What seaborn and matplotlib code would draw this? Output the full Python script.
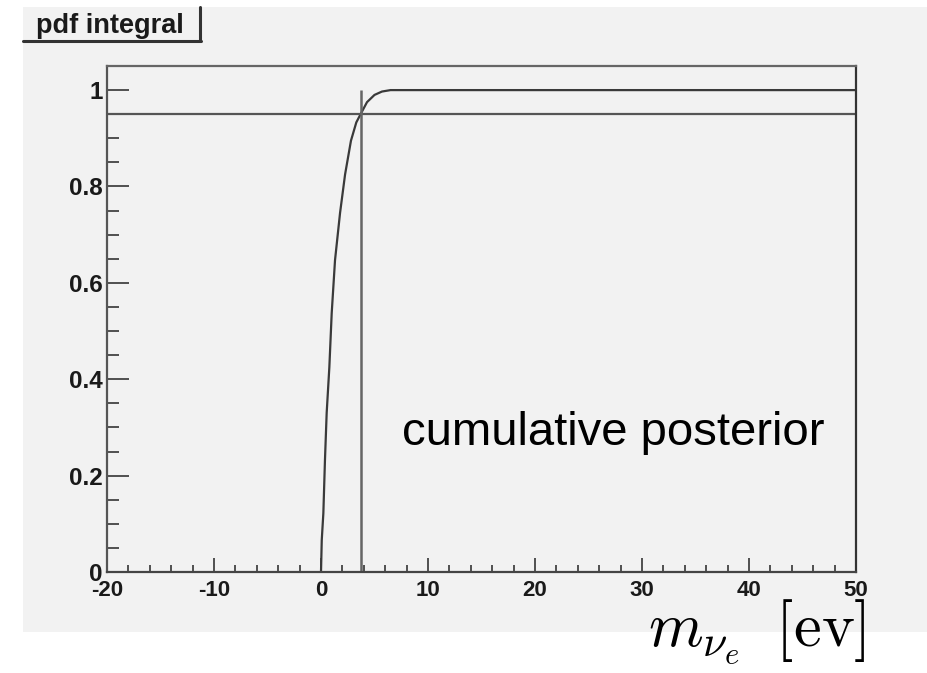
import numpy as np
import pandas as pd
import matplotlib
matplotlib.use('Agg')
import matplotlib.pyplot as plt
import seaborn as sns
from matplotlib.patches import Rectangle
from matplotlib.lines import Line2D
from matplotlib.ticker import FixedLocator, MultipleLocator

# ---- data ----
mass = [0.0, 0.07, 0.22, 0.37, 0.53, 0.78, 1.0, 1.31, 1.78, 2.25, 2.8, 3.3, 3.7,
        4.3, 5.0, 5.7, 6.5, 50.0]
cdf = [0.0, 0.066, 0.122, 0.232, 0.33, 0.425, 0.537, 0.647, 0.745, 0.825, 0.895,
       0.933, 0.95, 0.975, 0.99, 0.997, 1.0, 1.0]
limit_mass = 3.7
limit_level = 0.95
x_ticks = [-20, -10, 0, 10, 20, 30, 40, 50]
x_tick_labels = ['-20', '-10', '0', '10', '20', '30', '40', '50']
y_ticks = [0, 0.2, 0.4, 0.6, 0.8, 1.0]
y_tick_labels = ['0', '0.2', '0.4', '0.6', '0.8', '1']

df = pd.DataFrame({'mass': mass, 'cdf': cdf})

sns.set_theme(style='white')
plt.rcParams['font.family'] = ['Liberation Sans', 'DejaVu Sans']
plt.rcParams['mathtext.fontset'] = 'cm'

W, H = 928, 673
fig = plt.figure(figsize=(W / 100, H / 100), dpi=100)
fig.patch.set_facecolor('white')

# grey canvas
fig.add_artist(Rectangle((23 / W, 1 - 632 / H), 1 - 23 / W, (632 - 7) / H,
                         transform=fig.transFigure, facecolor='#f2f2f2',
                         edgecolor='none', zorder=-5))

ax = fig.add_axes([107 / W, 1 - 572 / H, (856 - 107) / W, (572 - 66) / H])
ax.set_facecolor('#f2f2f2')

sns.lineplot(data=df, x='mass', y='cdf', ax=ax, color='#3a3a3a', lw=1.6,
             estimator=None, sort=True, legend=False)
ax.axhline(limit_level, color='#555555', lw=1.6)
ax.vlines(limit_mass, 0, 1.0, color='#666666', lw=1.8)

ax.set_xlim(-20, 50)
ax.set_ylim(0, 1.05)
ax.set_xlabel('')
ax.set_ylabel('')

ax.xaxis.set_major_locator(FixedLocator(x_ticks))
ax.set_xticklabels(x_tick_labels)
ax.xaxis.set_minor_locator(MultipleLocator(2))
ax.yaxis.set_major_locator(FixedLocator(y_ticks))
ax.set_yticklabels(y_tick_labels)
ax.yaxis.set_minor_locator(MultipleLocator(0.05))

ax.tick_params(axis='both', which='both', direction='in', bottom=True, left=True,
               top=False, right=False, color='#444444', width=1.3,
               labelcolor='#1a1a1a')
ax.tick_params(axis='y', which='major', length=16, pad=3, labelsize=17.5)
ax.tick_params(axis='y', which='minor', length=8.5)
ax.tick_params(axis='x', which='major', length=10, pad=6, labelsize=16)
ax.tick_params(axis='x', which='minor', length=5)
for lab in ax.get_xticklabels() + ax.get_yticklabels():
    lab.set_fontweight('bold')

for side in ['left', 'bottom', 'right', 'top']:
    ax.spines[side].set_visible(True)
    ax.spines[side].set_linewidth(1.6)
ax.spines['left'].set_color('#555555')
ax.spines['bottom'].set_color('#444444')
ax.spines['right'].set_color('#333333')
ax.spines['top'].set_color('#666666')

ax.text(7.6, 0.263, 'cumulative posterior', fontsize=34, color='black',
        ha='left', va='baseline')

# title box
fig.text(36 / W, 1 - 33 / H, 'pdf integral', fontsize=19.5, fontweight='bold',
         color='#1a1a1a', ha='left', va='baseline')
fig.add_artist(Line2D([200 / W, 200 / W], [1 - 7 / H, 1 - 41 / H],
                      transform=fig.transFigure, color='#333333', lw=2.2))
fig.add_artist(Line2D([23 / W, 201 / W], [1 - 41 / H, 1 - 41 / H],
                      transform=fig.transFigure, color='#333333', lw=2.2))

# axis label (math)
fig.text(648 / W, 1 - 646 / H, r'$m_{\nu_e}\;\;[\mathrm{ev}]$', fontsize=45,
         color='black', ha='left', va='baseline')

fig.savefig('out.png', dpi=100)
